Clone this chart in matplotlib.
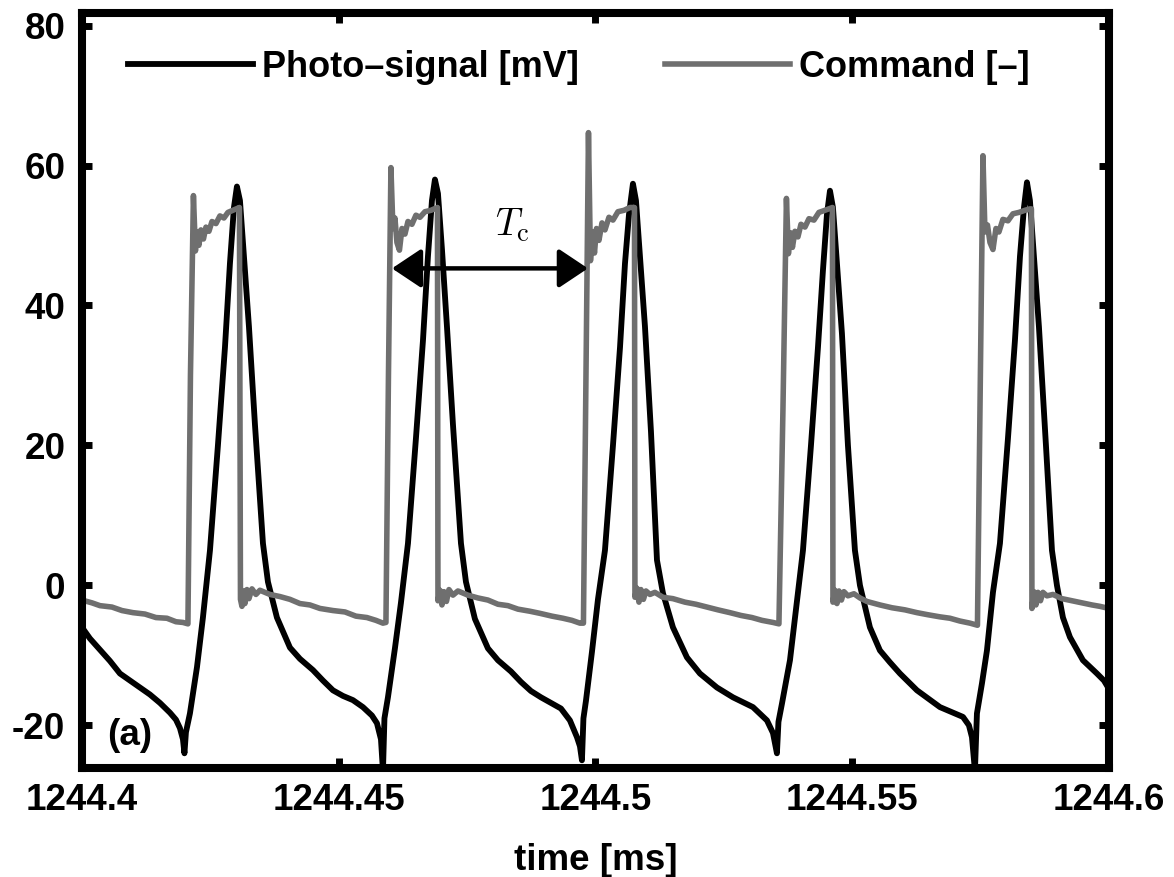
import numpy as np
import matplotlib
matplotlib.use("Agg")
import matplotlib.pyplot as plt

# time axis: microseconds after 1244.4 ms
T0_MS = 1244.4

photo_t_us = [
    0.0, 1.56, 3.51, 5.45, 7.40, 9.35, 11.29, 13.24, 15.19, 17.14, 18.31, 19.08, 19.67, 19.96,
    20.25, 21.03, 22.40, 23.56, 24.93, 26.48, 27.85, 28.82, 29.60, 30.18, 30.77, 31.55, 32.52,
    33.69, 35.25, 36.22, 37.97, 40.51, 42.45, 44.98, 46.93, 48.88, 50.83, 52.77, 54.72, 56.47,
    57.45, 58.23, 58.62,
    58.91, 59.59, 60.95, 62.12, 63.49, 65.04, 66.41, 67.38, 68.16, 68.74, 69.33, 70.11, 71.08,
    72.25, 73.81, 74.78, 76.53, 79.06, 81.01, 83.54, 85.49, 87.44, 89.39, 91.33, 93.28, 95.03,
    96.40, 96.98, 97.37,
    97.66, 98.15, 99.32, 100.49, 101.85, 103.41, 104.78, 105.75, 106.53, 107.30, 107.89, 108.67,
    109.64, 110.81, 111.98, 113.14, 115.09, 117.82, 120.35, 123.66, 126.78, 130.67, 133.40,
    134.57, 135.34,
    135.64, 136.32, 137.88, 139.43, 140.41, 141.97, 143.33, 144.30, 145.08, 145.67, 146.25,
    147.03, 148.00, 149.17, 150.53, 151.51, 153.45, 155.40, 157.35, 159.30, 162.61, 167.09,
    171.57, 172.73, 173.32, 173.90,
    174.29, 175.27, 176.24, 177.41, 178.77, 180.33, 181.69, 182.67, 183.45, 184.03, 184.61,
    185.39, 186.36, 187.73, 188.90, 189.87, 191.04, 192.40, 194.93, 197.66, 199.02, 200.0,
]
photo_mv = [
    -6.0, -7.6, -9.2, -10.8, -12.6, -13.6, -14.6, -15.6, -16.8, -18.2, -19.2, -20.4, -22.0, -24.0,
    -21.0, -18.3, -11.7, -4.6, 5.0, 20.0, 34.0, 46.0, 54.0, 57.0, 55.0, 47.0, 37.0,
    23.0, 6.0, 0.5, -4.6, -8.9, -10.5, -12.1, -13.6, -15.0, -15.8, -16.4, -17.4, -18.6,
    -19.7, -22.0, -26.5,
    -19.0, -16.0, -9.0, -2.5, 6.0, 21.0, 35.0, 47.0, 55.0, 58.0, 56.0, 48.0, 37.0,
    23.0, 6.0, 0.5, -4.8, -9.0, -10.7, -12.3, -13.8, -15.1, -16.0, -16.8, -17.6, -19.3,
    -21.7, -23.0, -25.0,
    -19.0, -16.5, -9.5, -2.0, 5.0, 20.0, 34.0, 46.0, 53.0, 57.4, 55.0, 47.0,
    37.0, 22.0, 3.6, -1.1, -6.0, -10.3, -12.6, -14.6, -16.0, -17.4, -19.3,
    -21.1, -24.0,
    -19.5, -16.9, -10.7, -1.1, 5.0, 20.0, 34.0, 45.0, 53.0, 56.4, 54.0,
    46.0, 36.0, 20.0, 5.0, 0.0, -6.0, -9.3, -11.0, -12.6, -15.0, -17.4,
    -18.8, -20.0, -21.7, -26.5,
    -18.3, -14.0, -9.3, -1.0, 6.0, 21.0, 35.0, 47.0, 54.0, 57.6, 55.0,
    47.0, 37.0, 20.0, 5.0, 0.0, -4.6, -7.4, -10.7, -12.6, -13.6, -14.8,
]

cmd_t_us = [
    0.0, 1.95, 3.51, 5.84, 7.79, 9.93, 12.27, 14.41, 16.55, 18.31, 19.67, 20.64,
    21.13, 21.71, 22.10, 22.40, 22.78, 23.17, 23.66, 24.15, 24.73, 25.32, 26.10, 26.87, 27.65,
    28.43, 29.41, 30.67,
    30.87, 31.16, 31.45, 31.74, 32.13, 32.52, 33.11, 33.88, 34.66, 36.61, 38.56, 40.51, 42.45,
    44.40, 46.35, 48.88, 51.22, 53.36, 55.50, 57.25, 58.62, 59.20,
    59.69, 60.17, 60.56, 60.95, 61.34, 61.83, 62.32, 62.90, 63.49, 64.26, 65.04, 65.82, 66.80,
    67.96, 69.23,
    69.33, 69.72, 70.11, 70.50, 70.98, 71.47, 72.25, 73.22, 75.17, 77.12, 79.06, 81.01, 82.96,
    84.91, 87.24, 89.19, 91.53, 93.67, 95.42, 96.98, 97.66,
    98.15, 98.64, 99.03, 99.42, 99.81, 100.20, 100.68, 101.27, 101.85, 102.63, 103.41, 104.38,
    105.56, 106.72, 107.60,
    107.69, 108.08, 108.47, 108.86, 109.34, 109.83, 110.61, 111.58, 113.14, 115.09, 117.43,
    119.57, 121.71, 123.85, 126.19, 128.33, 130.48, 132.42, 134.57, 135.73,
    136.51, 137.19, 137.58, 137.97, 138.36, 138.85, 139.43, 140.02, 140.80, 141.58, 142.55,
    143.52, 144.69, 146.15,
    146.25, 146.64, 147.03, 147.42, 147.90, 148.39, 149.17, 150.34, 151.51, 152.87, 155.40,
    157.74, 160.27, 162.61, 164.75, 167.09, 169.04, 170.98, 172.93, 174.39,
    174.97, 175.46, 175.85, 176.34, 176.83, 177.41, 177.99, 178.57, 179.35, 180.33, 181.30,
    182.47, 183.64, 184.61, 184.90,
    185.00, 185.39, 185.78, 186.17, 186.66, 187.14, 187.92, 189.09, 190.85, 192.79, 194.74,
    196.69, 198.24, 200.0,
]
cmd_val = [
    -2.1, -2.5, -2.9, -3.1, -3.6, -3.9, -4.1, -4.6, -4.7, -5.2, -5.3, -5.5,
    30.0, 55.7, 47.8, 50.5, 48.6, 50.8, 49.5, 51.2, 50.6, 52.0, 51.7, 52.8, 52.5,
    53.3, 53.6, 54.0,
    -2.0, -3.0, -0.8, -2.6, -0.6, -1.9, -0.5, -1.3, -0.7, -1.3, -1.6, -2.0, -2.6,
    -2.8, -3.3, -3.6, -3.8, -4.4, -4.6, -5.0, -5.4, -5.3,
    30.0, 59.7, 51.0, 52.5, 49.0, 47.9, 51.0, 50.2, 52.0, 51.6, 52.9, 52.6, 53.4,
    53.6, 54.0,
    -2.2, -0.7, -2.8, -0.9, -2.3, -0.6, -1.4, -0.8, -1.4, -1.8, -2.1, -2.7, -2.9,
    -3.4, -3.7, -4.0, -4.4, -4.7, -5.0, -5.4, -5.4,
    30.0, 64.7, 46.4, 50.5, 47.5, 51.0, 49.3, 51.8, 50.8, 52.6, 52.2, 53.4,
    53.6, 54.0, 54.0,
    -1.7, -0.4, -2.4, -0.6, -2.0, -0.8, -1.3, -1.0, -1.7, -1.9, -2.4,
    -2.7, -3.1, -3.5, -3.9, -4.3, -4.6, -5.0, -5.3, -5.5,
    25.0, 55.3, 47.4, 50.4, 48.3, 50.6, 49.8, 51.6, 51.2, 52.4, 52.2,
    53.3, 53.6, 54.0,
    -2.4, -0.7, -2.6, -0.8, -2.1, -0.9, -1.5, -1.2, -1.8, -2.3, -2.8,
    -3.2, -3.5, -3.9, -4.2, -4.5, -4.7, -5.1, -5.4, -5.7,
    30.0, 61.4, 50.5, 51.5, 49.0, 48.0, 51.0, 50.5, 52.3, 52.1, 53.1,
    53.3, 53.6, 53.8, 53.8,
    -3.3, -0.9, -2.8, -1.0, -2.2, -1.0, -1.5, -1.3, -1.9, -2.2, -2.5,
    -2.8, -3.0, -3.3,
]

xtick_vals = [1244.4, 1244.45, 1244.5, 1244.55, 1244.6]
xtick_labels = ["1244.4", "1244.45", "1244.5", "1244.55", "1244.6"]
ytick_vals = [-20, 0, 20, 40, 60, 80]

# period marker between two command rising edges
tc_start_us = 60.37
tc_end_us = 98.54
tc_level = 45.3

plt.rcParams['font.family'] = ['Liberation Sans', 'DejaVu Sans']
plt.rcParams['font.weight'] = 'bold'
plt.rcParams['axes.unicode_minus'] = False
plt.rcParams['mathtext.fontset'] = 'cm'

FS = 26.5


def to_ms(t_us):
    return T0_MS + np.asarray(t_us) / 1000.0


def main():
    fig = plt.figure(figsize=(11.74, 8.77), dpi=100)
    ax = fig.add_axes([0.0698, 0.1243, 0.8748, 0.8609])

    ax.plot(to_ms(photo_t_us), photo_mv, color='black', lw=4.2,
            solid_joinstyle='round', label='Photo–signal [mV]')
    ax.plot(to_ms(cmd_t_us), cmd_val, color='#6f6f6f', lw=4.0,
            solid_joinstyle='round', label='Command [–]')

    ax.set_xlim(1244.4, 1244.6)
    ax.set_ylim(-26.1, 81.8)
    ax.set_xticks(xtick_vals)
    ax.set_xticklabels(xtick_labels)
    ax.set_yticks(ytick_vals)

    for s in ax.spines.values():
        s.set_linewidth(5.8)
    ax.tick_params(direction='in', length=7, width=5, top=True, right=True,
                   labelsize=FS)
    ax.tick_params(axis='x', pad=11)
    ax.tick_params(axis='y', pad=12)
    for lab in ax.get_xticklabels() + ax.get_yticklabels():
        lab.set_fontweight('bold')

    ax.set_xlabel('time [ms]', fontsize=FS, fontweight='bold', labelpad=18)

    ax.annotate('', xy=(to_ms(tc_end_us), tc_level),
                xytext=(to_ms(tc_start_us), tc_level),
                arrowprops=dict(arrowstyle='<|-|>,head_length=0.75,head_width=0.5',
                                color='black', lw=3.2, mutation_scale=24,
                                shrinkA=0, shrinkB=0))
    ax.text(to_ms((tc_start_us + tc_end_us) / 2 + 4.3), 51.4, r'$T_{\mathrm{c}}$',
            fontsize=27, ha='center', va='center')

    ax.text(to_ms(4.9), -21.4, '(a)', fontsize=FS, fontweight='bold',
            ha='left', va='center')

    ax.legend(ncol=2, loc='center left', bbox_to_anchor=(0.0448, 0.928),
              frameon=False, borderpad=0, borderaxespad=0,
              handlelength=3.45, handletextpad=0.25, columnspacing=2.4,
              prop={'size': 26, 'weight': 'bold'})

    fig.savefig('out.png', dpi=100)


if __name__ == "__main__":
    main()
